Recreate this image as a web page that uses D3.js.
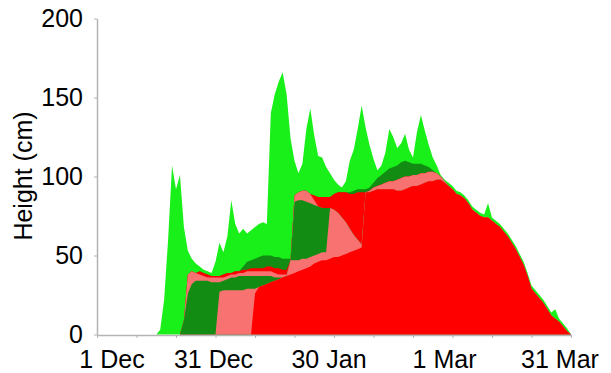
<!DOCTYPE html>
<html>
<head>
<meta charset="utf-8">
<script src="https://cdn.jsdelivr.net/npm/d3@7"></script>
<style>
  html, body { margin: 0; padding: 0; background: #fff; }
  svg { display: block; font-family: "Liberation Sans", Arial, sans-serif; }
</style>
</head>
<body>
<svg id="chart" width="611" height="373"></svg>
<script>
// Snowpack profile through the winter: days counted from 1 December.
const days = [
  15,16,17,18,19,20,21,22,23,24,
  25,26,27,28,29,30,31,32,33,34,
  35,36,37,38,39,40,41,42,43,44,
  45,46,47,48,49,50,51,52,53,54,
  55,56,57,58,59,60,61,62,63,64,
  65,66,67,68,69,70,71,72,73,74,
  75,76,77,78,79,80,81,82,83,84,
  85,86,87,88,89,90,91,92,93,94,
  95,96,97,98,99,100,101,102,103,104,
  105,106,107,108,109,110,111,112,113,114,
  115,116,117,118,119,120
];

// Total snow height (cm) – top of the fresh-snow layer
const surface = [
  0,3,22,60,107,92,101,68,53,48,
  45,43,41,40,39,46,58,52,62,85,
  70,64,67,64,66,68,70,71,70,140,
  152,160,166,152,124,110,102,108,130,143,
  126,113,112,106,102,98,95,93,97,110,
  117,130,145,131,120,111,104,107,115,130,
  125,118,121,127,117,112,128,139,129,120,
  112,107,101,98,96,94,91,90,88,85,
  81,79,77,76,83,74,72,70,67,64,
  60,56,51,46,39,31,28,25,22,18,
  14,16,10,7,4,0
];

// Upper dark-green (decomposing) layer – top height (cm)
const darkHigh = [
  0,0,0,0,0,0,0,9,38,40,
  39,40,39,38,37,37,37,38,39,39,
  40,40,43,46,47,48,49,50,50,50,
  49,49,48,48,48,88,90,91,91,89,
  88,87,87,87,87,89,90,90,90,90,
  91,92,92,92,93,96,99,101,103,105,
  106,107,109,110,109,108,108,108,107,106,
  104,102,100,97,94,92,89,88,86,83,
  79,77,75,74,74,72,70,68,65,62,
  58,54,49,44,37,29,26,23,20,16,
  12,10,8,5,2,0
];

// Upper red layer – top height (cm)
const redHigh = [
  0,0,0,0,0,0,0,9,38,40,
  39,40,39,38,37,37,37,38,39,39,
  40,40,41,41,42,42,42,42,43,43,
  42,42,41,41,47,88,90,91,91,89,
  88,87,87,87,87,89,90,90,90,89,
  89,90,90,90,91,93,94,95,96,97,
  97,98,99,100,100,101,101,102,102,103,
  103,102,100,97,94,92,89,88,86,83,
  79,77,75,74,74,72,70,68,65,62,
  58,54,49,44,37,29,26,23,20,16,
  12,10,8,5,2,0
];

// Upper pink (rounded grains) layer – top height (cm)
const pinkHigh = [
  0,0,0,0,0,0,0,9,38,40,
  39,38,37,36,36,36,36,36,37,38,
  38,39,39,40,40,40,40,40,40,40,
  39,38,38,38,47,88,90,91,91,89,
  85,81,80,80,80,79,77,74,71,67,
  63,60,57,90,91,93,94,95,96,97,
  97,98,99,100,100,101,101,102,102,103,
  103,102,100,97,94,92,89,88,86,83,
  79,77,75,74,74,72,70,68,65,62,
  58,54,49,44,37,29,26,23,20,16,
  12,10,8,5,2,0
];

// Lower dark-green layer – top height (cm)
const darkLow = [
  0,0,0,0,0,0,0,9,26,32,
  34,34,34,34,33,33,33,34,35,36,
  36,37,37,37,37,37,37,37,37,37,
  36,36,36,37,47,84,85,85,84,83,
  82,81,80,80,80,79,77,74,71,67,
  63,60,57,90,90,91,92,92,92,92,
  92,91,91,92,93,94,94,95,96,97,
  97,98,98,96,94,92,89,88,86,83,
  79,77,75,74,74,72,70,68,65,62,
  58,54,49,44,37,29,26,23,20,16,
  12,10,8,5,2,0
];

// Lower pink layer – top height (cm)
const pinkLow = [
  0,0,0,0,0,0,0,0,0,0,
  0,0,0,0,0,0,27,28,28,28,
  28,28,28,29,29,29,30,31,32,33,
  34,35,36,37,47,47,47,48,48,49,
  50,51,52,52,80,79,77,74,71,67,
  63,60,57,90,90,91,92,92,92,92,
  92,91,91,92,93,94,94,95,96,97,
  97,98,98,96,94,92,89,88,86,83,
  79,77,75,74,74,72,70,68,65,62,
  58,54,49,44,37,29,26,23,20,16,
  12,10,8,5,2,0
];

// Old red base layer – top height (cm)
const redBase = [
  0,0,0,0,0,0,0,0,0,0,
  0,0,0,0,0,0,0,0,0,0,
  0,0,0,0,0,26,30,31,32,33,
  34,35,36,37,38,39,40,41,42,43,
  45,46,47,47,48,49,49,50,51,52,
  53,54,55,90,90,91,92,92,92,92,
  92,91,91,92,93,94,94,95,96,97,
  97,98,98,96,94,92,89,88,86,83,
  79,77,75,74,74,72,70,68,65,62,
  58,54,49,44,37,29,26,23,20,16,
  12,10,8,5,2,0
];

const yTicks = [0, 50, 100, 150, 200];
const xTickDays = [0,10,20,30,40,50,60,70,80,90,100,110,120];
const xLabels = ["1 Dec", "31 Dec", "30 Jan", "1 Mar", "31 Mar"];

const GREEN = "#19f019";
const DARK  = "#128c12";
const PINK  = "#f87272";
const RED   = "#ff0000";
const AXIS  = "#b4b4b4";
const FONT_SIZE = 25;

const svg = d3.select("#chart");

const x = d3.scaleLinear().domain([0, 120]).range([97, 571]);
const y = d3.scaleLinear().domain([0, 200]).range([334.5, 18.5]);

// Each band is filled from the ground up to its top; painting from the
// uppermost band down leaves every band visible between its neighbours.
const bands = [
  { top: surface,  color: GREEN },
  { top: darkHigh, color: DARK },
  { top: redHigh,  color: RED },
  { top: pinkHigh, color: PINK },
  { top: darkLow,  color: DARK },
  { top: pinkLow,  color: PINK },
  { top: redBase,  color: RED }
];

const area = d3.area()
  .x((d, i) => x(days[i]))
  .y0(y(0))
  .y1(d => y(d));

svg.append("g").selectAll("path")
  .data(bands)
  .join("path")
  .attr("d", b => area(b.top))
  .attr("fill", b => b.color);

// Y axis
const yAxis = svg.append("g")
  .attr("transform", "translate(97,0)")
  .call(d3.axisLeft(y).tickValues(yTicks).tickSize(3).tickSizeOuter(0).tickPadding(11));
yAxis.select(".domain").attr("stroke", AXIS).attr("stroke-width", 1.5);
yAxis.selectAll(".tick line").attr("stroke", AXIS);
yAxis.selectAll("text").attr("fill", "#000").attr("font-size", FONT_SIZE)
  .attr("font-family", "'Liberation Sans', Arial, sans-serif");

// X axis (tick marks every ten days)
const xAxis = svg.append("g")
  .attr("transform", "translate(0,335)")
  .call(d3.axisBottom(x).tickValues(xTickDays).tickSize(3).tickSizeOuter(0).tickFormat(""));
xAxis.select(".domain").attr("stroke", AXIS).attr("stroke-width", 1.5);
xAxis.selectAll(".tick line").attr("stroke", AXIS);

// Month labels
const xLab = d3.scalePoint().domain(xLabels).range([98, 560]);
svg.append("g").selectAll("text")
  .data(xLabels)
  .join("text")
  .attr("x", (d, i) => xLab(d) + (i === 0 ? 14 : 0))
  .attr("y", 368)
  .attr("text-anchor", "middle")
  .attr("font-size", FONT_SIZE)
  .attr("fill", "#000")
  .text(d => d);

// Y axis title
svg.append("text")
  .attr("transform", "translate(32,176) rotate(-90)")
  .attr("text-anchor", "middle")
  .attr("font-size", FONT_SIZE)
  .attr("fill", "#000")
  .text("Height (cm)");
</script>
</body>
</html>
